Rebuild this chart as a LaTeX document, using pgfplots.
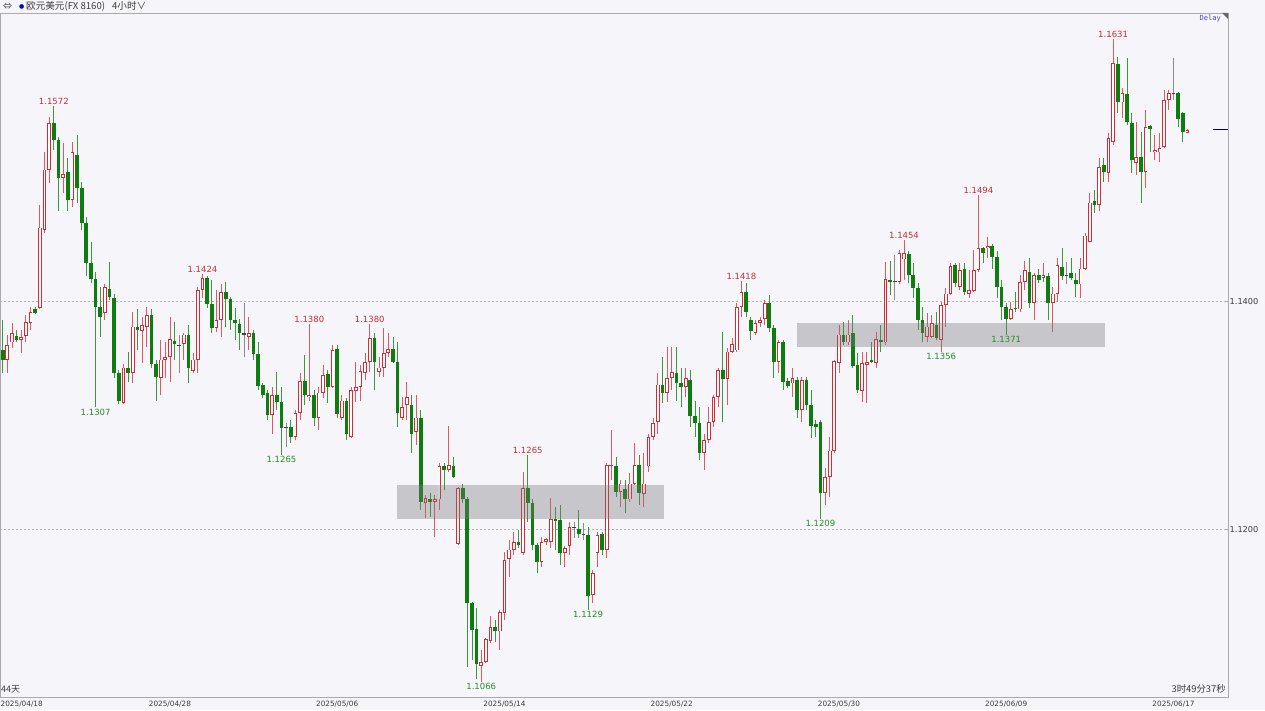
\documentclass[border=0pt]{standalone}
\usepackage{fontspec}
\setmainfont{DejaVu Sans}
\newfontfamily\cjk{Noto Sans CJK SC}
\newfontfamily\monofont{DejaVu Sans Mono}
\usepackage{pgfplots}
\usepackage{pgfplotstable}
\pgfplotsset{compat=1.18}

\definecolor{bg}{RGB}{245,245,250}
\definecolor{upc}{RGB}{212,44,54}
\definecolor{upwick}{RGB}{222,90,98}
\definecolor{dnc}{RGB}{14,124,14}
\definecolor{dnwick}{RGB}{62,150,62}
\definecolor{dojic}{RGB}{110,110,110}
\definecolor{zone}{RGB}{120,120,120}
\definecolor{lblred}{RGB}{196,46,56}
\definecolor{lblgreen}{RGB}{40,140,40}
\definecolor{axisgray}{RGB}{170,170,176}
\definecolor{txt}{RGB}{60,60,60}

% EUR/USD 4h candles: index, open, high, low, close
\pgfplotstableread{
i o h l c
1 1.1349 1.1371 1.1337 1.1362
2 1.1364 1.1381 1.1359 1.1372
4 1.1366 1.1375 1.1355 1.1369
5 1.1370 1.1388 1.1364 1.1382
6 1.1381 1.1395 1.1375 1.1391
8 1.1394 1.1485 1.1393 1.1465
9 1.1463 1.1531 1.1460 1.1516
10 1.1516 1.1562 1.1504 1.1557
13 1.1509 1.1539 1.1495 1.1512
15 1.1489 1.1540 1.1483 1.1531
22 1.1390 1.1415 1.1384 1.1413
26 1.1311 1.1345 1.1310 1.1342
28 1.1337 1.1391 1.1328 1.1378
30 1.1374 1.1386 1.1346 1.1379
31 1.1378 1.1395 1.1360 1.1388
34 1.1333 1.1366 1.1318 1.1349
35 1.1349 1.1364 1.1333 1.1351
36 1.1351 1.1386 1.1329 1.1367
39 1.1363 1.1372 1.1349 1.1371
41 1.1339 1.1355 1.1337 1.1349
42 1.1349 1.1413 1.1337 1.1410
43 1.1410 1.1424 1.1403 1.1421
46 1.1377 1.1410 1.1373 1.1384
47 1.1384 1.1415 1.1369 1.1408
53 1.1369 1.1386 1.1357 1.1372
58 1.1300 1.1325 1.1284 1.1318
63 1.1281 1.1305 1.1278 1.1302
64 1.1302 1.1337 1.1296 1.1330
66 1.1316 1.1380 1.1313 1.1318
68 1.1298 1.1325 1.1287 1.1320
69 1.1320 1.1344 1.1315 1.1335
71 1.1325 1.1362 1.1324 1.1357
73 1.1298 1.1318 1.1296 1.1313
75 1.1281 1.1325 1.1280 1.1322
76 1.1321 1.1347 1.1312 1.1325
77 1.1325 1.1344 1.1313 1.1339
78 1.1337 1.1355 1.1331 1.1347
79 1.1347 1.1380 1.1338 1.1368
81 1.1338 1.1351 1.1334 1.1342
82 1.1342 1.1377 1.1334 1.1355
83 1.1355 1.1372 1.1351 1.1358
86 1.1298 1.1316 1.1296 1.1307
87 1.1309 1.1329 1.1296 1.1316
89 1.1285 1.1318 1.1274 1.1298
91 1.1223 1.1230 1.1210 1.1227
93 1.1224 1.1230 1.1193 1.1226
94 1.1226 1.1258 1.1217 1.1255
96 1.1252 1.1291 1.1250 1.1256
98 1.1187 1.1237 1.1186 1.1236
103 1.1080 1.1094 1.1066 1.1083
104 1.1083 1.1104 1.1082 1.1103
105 1.1102 1.1124 1.1100 1.1114
107 1.1110 1.1129 1.1094 1.1127
108 1.1126 1.1180 1.1120 1.1173
109 1.1174 1.1190 1.1158 1.1182
110 1.1182 1.1197 1.1177 1.1189
112 1.1179 1.1250 1.1177 1.1236
116 1.1171 1.1193 1.1167 1.1189
117 1.1189 1.1192 1.1186 1.1191
118 1.1189 1.1227 1.1183 1.1209
121 1.1179 1.1185 1.1167 1.1183
122 1.1185 1.1206 1.1177 1.1202
127 1.1142 1.1164 1.1135 1.1161
128 1.1179 1.1197 1.1167 1.1195
130 1.1182 1.1258 1.1175 1.1256
131 1.1255 1.1287 1.1243 1.1256
133 1.1233 1.1243 1.1219 1.1240
135 1.1226 1.1249 1.1224 1.1240
136 1.1240 1.1276 1.1239 1.1256
138 1.1231 1.1267 1.1219 1.1240
139 1.1255 1.1284 1.1250 1.1281
140 1.1281 1.1298 1.1278 1.1293
141 1.1294 1.1337 1.1284 1.1327
143 1.1320 1.1360 1.1312 1.1333
144 1.1333 1.1360 1.1322 1.1338
147 1.1325 1.1342 1.1316 1.1333
151 1.1267 1.1284 1.1252 1.1278
152 1.1278 1.1307 1.1276 1.1294
153 1.1294 1.1318 1.1290 1.1316
154 1.1316 1.1342 1.1307 1.1340
156 1.1332 1.1359 1.1309 1.1356
157 1.1356 1.1368 1.1355 1.1363
158 1.1357 1.1399 1.1356 1.1395
159 1.1395 1.1418 1.1386 1.1408
162 1.1372 1.1384 1.1371 1.1381
163 1.1381 1.1386 1.1378 1.1384
164 1.1385 1.1401 1.1379 1.1399
167 1.1347 1.1366 1.1337 1.1364
170 1.1328 1.1342 1.1316 1.1333
172 1.1305 1.1334 1.1294 1.1331
177 1.1232 1.1254 1.1221 1.1246
178 1.1246 1.1281 1.1228 1.1269
179 1.1269 1.1349 1.1267 1.1348
180 1.1346 1.1379 1.1337 1.1371
182 1.1364 1.1384 1.1362 1.1371
185 1.1321 1.1356 1.1312 1.1346
186 1.1344 1.1356 1.1311 1.1347
188 1.1346 1.1373 1.1342 1.1367
190 1.1364 1.1435 1.1362 1.1420
193 1.1417 1.1445 1.1415 1.1443
194 1.1437 1.1454 1.1419 1.1443
199 1.1369 1.1390 1.1364 1.1378
200 1.1369 1.1388 1.1368 1.1381
202 1.1366 1.1400 1.1356 1.1397
203 1.1397 1.1412 1.1378 1.1407
204 1.1407 1.1434 1.1406 1.1431
206 1.1413 1.1434 1.1410 1.1428
208 1.1407 1.1428 1.1403 1.1410
209 1.1409 1.1445 1.1408 1.1428
210 1.1428 1.1494 1.1426 1.1447
212 1.1447 1.1457 1.1438 1.1449
217 1.1385 1.1400 1.1384 1.1393
219 1.1393 1.1423 1.1391 1.1417
220 1.1417 1.1436 1.1410 1.1428
222 1.1399 1.1425 1.1384 1.1423
224 1.1421 1.1434 1.1417 1.1423
226 1.1399 1.1413 1.1373 1.1407
227 1.1407 1.1438 1.1400 1.1432
232 1.1415 1.1438 1.1403 1.1429
233 1.1429 1.1460 1.1428 1.1458
234 1.1452 1.1495 1.1452 1.1487
236 1.1485 1.1526 1.1480 1.1518
238 1.1513 1.1548 1.1505 1.1544
239 1.1540 1.1631 1.1538 1.1610
241 1.1575 1.1588 1.1561 1.1583
244 1.1522 1.1558 1.1511 1.1527
246 1.1514 1.1568 1.1500 1.1553
248 1.1531 1.1546 1.1524 1.1533
249 1.1531 1.1548 1.1523 1.1535
250 1.1536 1.1586 1.1535 1.1577
251 1.1577 1.1586 1.1568 1.1583
255 1.1548 1.1552 1.1548 1.1551
}\upcandles

\pgfplotstableread{
i o h l c
0 1.1357 1.1384 1.1337 1.1349
3 1.1370 1.1375 1.1364 1.1366
7 1.1393 1.1395 1.1389 1.1390
11 1.1557 1.1572 1.1533 1.1542
12 1.1542 1.1545 1.1480 1.1509
14 1.1514 1.1526 1.1480 1.1489
16 1.1529 1.1546 1.1487 1.1500
17 1.1500 1.1505 1.1463 1.1469
18 1.1469 1.1474 1.1422 1.1434
19 1.1434 1.1452 1.1416 1.1420
20 1.1420 1.1426 1.1307 1.1395
21 1.1395 1.1413 1.1369 1.1386
23 1.1411 1.1435 1.1401 1.1404
24 1.1403 1.1407 1.1333 1.1337
25 1.1337 1.1340 1.1310 1.1313
27 1.1342 1.1356 1.1329 1.1337
29 1.1378 1.1393 1.1357 1.1375
32 1.1388 1.1393 1.1342 1.1345
33 1.1345 1.1349 1.1313 1.1334
37 1.1365 1.1382 1.1349 1.1363
40 1.1371 1.1379 1.1328 1.1342
44 1.1421 1.1422 1.1394 1.1398
45 1.1398 1.1419 1.1372 1.1377
48 1.1408 1.1417 1.1378 1.1402
49 1.1402 1.1404 1.1375 1.1384
50 1.1384 1.1394 1.1366 1.1381
51 1.1380 1.1385 1.1357 1.1372
54 1.1372 1.1375 1.1349 1.1354
55 1.1354 1.1364 1.1322 1.1326
56 1.1327 1.1328 1.1315 1.1318
57 1.1320 1.1322 1.1296 1.1300
59 1.1318 1.1338 1.1305 1.1312
60 1.1312 1.1325 1.1265 1.1289
62 1.1290 1.1296 1.1276 1.1281
65 1.1330 1.1353 1.1309 1.1318
67 1.1318 1.1322 1.1291 1.1298
70 1.1336 1.1340 1.1311 1.1325
72 1.1358 1.1362 1.1298 1.1301
74 1.1313 1.1315 1.1278 1.1284
80 1.1368 1.1372 1.1322 1.1347
84 1.1358 1.1369 1.1346 1.1347
85 1.1347 1.1364 1.1290 1.1302
88 1.1309 1.1318 1.1267 1.1284
90 1.1298 1.1305 1.1217 1.1224
92 1.1226 1.1232 1.1211 1.1224
95 1.1255 1.1258 1.1234 1.1252
97 1.1255 1.1263 1.1245 1.1246
99 1.1236 1.1240 1.1223 1.1226
100 1.1226 1.1228 1.1079 1.1135
101 1.1135 1.1136 1.1085 1.1111
102 1.1112 1.1131 1.1068 1.1081
106 1.1114 1.1120 1.1101 1.1110
111 1.1189 1.1199 1.1183 1.1186
113 1.1236 1.1265 1.1206 1.1223
114 1.1223 1.1226 1.1182 1.1186
115 1.1186 1.1188 1.1161 1.1171
119 1.1209 1.1219 1.1182 1.1207
120 1.1208 1.1221 1.1168 1.1179
124 1.1200 1.1217 1.1192 1.1196
126 1.1195 1.1202 1.1129 1.1141
129 1.1196 1.1197 1.1177 1.1182
132 1.1255 1.1263 1.1228 1.1233
134 1.1235 1.1243 1.1214 1.1226
137 1.1256 1.1265 1.1221 1.1232
142 1.1327 1.1351 1.1311 1.1320
145 1.1337 1.1360 1.1313 1.1328
146 1.1328 1.1342 1.1307 1.1325
148 1.1331 1.1340 1.1290 1.1299
149 1.1299 1.1313 1.1281 1.1293
150 1.1293 1.1307 1.1261 1.1267
155 1.1340 1.1373 1.1294 1.1332
160 1.1408 1.1416 1.1386 1.1391
161 1.1384 1.1386 1.1366 1.1374
165 1.1399 1.1406 1.1373 1.1377
166 1.1377 1.1379 1.1333 1.1347
168 1.1364 1.1366 1.1322 1.1329
169 1.1330 1.1333 1.1324 1.1326
171 1.1331 1.1334 1.1298 1.1305
173 1.1331 1.1334 1.1305 1.1309
174 1.1309 1.1322 1.1280 1.1291
175 1.1292 1.1296 1.1281 1.1290
176 1.1294 1.1296 1.1209 1.1232
181 1.1371 1.1382 1.1362 1.1364
183 1.1372 1.1388 1.1342 1.1343
184 1.1344 1.1355 1.1320 1.1322
187 1.1349 1.1364 1.1346 1.1347
189 1.1366 1.1379 1.1356 1.1364
191 1.1419 1.1436 1.1406 1.1417
195 1.1442 1.1444 1.1416 1.1423
196 1.1423 1.1434 1.1403 1.1412
197 1.1412 1.1416 1.1375 1.1384
198 1.1384 1.1395 1.1364 1.1372
201 1.1379 1.1391 1.1366 1.1368
205 1.1432 1.1434 1.1413 1.1416
207 1.1429 1.1434 1.1406 1.1408
211 1.1447 1.1448 1.1434 1.1443
213 1.1449 1.1451 1.1429 1.1439
214 1.1439 1.1444 1.1403 1.1413
215 1.1413 1.1419 1.1384 1.1395
216 1.1395 1.1399 1.1371 1.1385
218 1.1394 1.1408 1.1391 1.1393
221 1.1426 1.1438 1.1394 1.1399
223 1.1423 1.1429 1.1416 1.1419
225 1.1422 1.1425 1.1384 1.1399
228 1.1430 1.1447 1.1419 1.1422
230 1.1425 1.1438 1.1419 1.1421
231 1.1419 1.1425 1.1404 1.1415
235 1.1488 1.1498 1.1478 1.1485
237 1.1520 1.1526 1.1505 1.1514
240 1.1609 1.1615 1.1566 1.1575
242 1.1582 1.1614 1.1555 1.1558
243 1.1557 1.1566 1.1513 1.1524
245 1.1527 1.1549 1.1487 1.1514
247 1.1554 1.1555 1.1531 1.1552
253 1.1583 1.1584 1.1553 1.1560
254 1.1566 1.1567 1.1540 1.1549
}\downcandles

\pgfplotstableread{
i o h l c
38 1.1361 1.1371 1.1337 1.1361
52 1.1371 1.1399 1.1351 1.1371
61 1.1289 1.1293 1.1272 1.1289
123 1.1202 1.1206 1.1192 1.1201
125 1.1196 1.1205 1.1190 1.1195
192 1.1417 1.1441 1.1401 1.1417
229 1.1422 1.1435 1.1415 1.1422
252 1.1583 1.1614 1.1577 1.1582
}\dojicandles

\newcommand\lblfont{\fontsize{8.5}{9}\selectfont}

\begin{document}
\begin{tikzpicture}[x=1pt,y=1pt]
\fill[bg] (0,0) rectangle (1265,710);
\useasboundingbox (0,0) rectangle (1265,710);

\begin{axis}[
  at={(0pt,13pt)}, anchor=south west,
  scale only axis, width=1228pt, height=684pt,
  xmin=-0.581, xmax=263.73,
  ymin=1.10524, ymax=1.16536,
  axis background/.style={fill=bg},
  axis line style={draw=axisgray, line width=0.8pt},
  ytick={1.12,1.14}, yticklabels={1.1200,1.1400},
  ytick pos=right, yticklabel pos=right,
  ytick style={draw=axisgray},
  major tick length=3pt,
  yticklabel style={font=\fontsize{8.2}{9}\selectfont, text=txt, inner sep=1.5pt},
  ymajorgrids,
  grid style={draw=black!28, dash pattern=on 2pt off 2pt, line width=0.5pt},
  xtick={36,72,108,144,180,216,252},
  xticklabels={2025/04/28,2025/05/06,2025/05/14,2025/05/22,2025/05/30,2025/06/09,2025/06/17},
  xtick style={draw=none},
  xticklabel style={font=\fontsize{7.3}{8}\selectfont, text=txt, inner sep=2pt, yshift=-1.5pt},
  clip=true,
]

% wicks
\addplot[draw=none, mark=none, forget plot,
  error bars/.cd, y dir=plus, y explicit, error mark=none,
  error bar style={draw=upwick, line width=0.9pt}]
  table[x=i, y=l, y error plus expr={\thisrow{h}-\thisrow{l}}] {\upcandles};
\addplot[draw=none, mark=none, forget plot,
  error bars/.cd, y dir=plus, y explicit, error mark=none,
  error bar style={draw=dnwick, line width=0.9pt}]
  table[x=i, y=l, y error plus expr={\thisrow{h}-\thisrow{l}}] {\downcandles};
\addplot[draw=none, mark=none, forget plot,
  error bars/.cd, y dir=plus, y explicit, error mark=none,
  error bar style={draw=dojic!80, line width=0.9pt}]
  table[x=i, y=l, y error plus expr={\thisrow{h}-\thisrow{l}}] {\dojicandles};

% bodies: falling candles filled, rising candles hollow
\addplot[draw=none, mark=none, forget plot,
  error bars/.cd, y dir=plus, y explicit, error mark=none,
  error bar style={draw=dnc, line width=3.7pt}]
  table[x=i, y=c, y error plus expr={max(\thisrow{o}-\thisrow{c},0.0001)}] {\downcandles};
\addplot[draw=none, mark=none, forget plot,
  error bars/.cd, y dir=plus, y explicit, error mark=none,
  error bar style={draw=upc, line width=3.7pt}]
  table[x=i, y=o, y error plus expr={max(\thisrow{c}-\thisrow{o},0.0001)}] {\upcandles};
\addplot[draw=none, mark=none, forget plot,
  error bars/.cd, y dir=plus, y explicit, error mark=none,
  error bar style={draw=white, line width=1.9pt}]
  table[x=i, y expr={\thisrow{o}+0.00008}, y error plus expr={max(\thisrow{c}-\thisrow{o}-0.00016,0)}] {\upcandles};
\addplot[draw=none, mark=none, forget plot,
  error bars/.cd, y dir=plus, y explicit, error mark=none,
  error bar style={draw=black!75, line width=3.7pt}]
  table[x=i, y=c, y error plus expr={0.0001}] {\dojicandles};

% support / resistance zones, laid over the candles
\addplot[fill=zone, fill opacity=0.36, draw=none, forget plot]
  coordinates {(84.87,1.12088) (142.3,1.12088) (142.3,1.12387) (84.87,1.12387)} --cycle;
\addplot[fill=zone, fill opacity=0.36, draw=none, forget plot]
  coordinates {(170.97,1.13597) (237.3,1.13597) (237.3,1.13808) (170.97,1.13808)} --cycle;

% last price marker
\addplot[draw=black!80!blue, line width=0.9pt, forget plot]
  coordinates {(260.5,1.1551) (263.73,1.1551)};

% swing high / low labels
\begin{scope}[every node/.style={font=\lblfont, inner sep=1.2pt}]
\node[text=lblred, anchor=south] at (axis cs:11,1.1572) {1.1572};
\node[text=lblgreen, anchor=north] at (axis cs:20,1.1307) {1.1307};
\node[text=lblred, anchor=south] at (axis cs:43,1.1424) {1.1424};
\node[text=lblgreen, anchor=north] at (axis cs:60,1.1265) {1.1265};
\node[text=lblred, anchor=south] at (axis cs:66,1.1380) {1.1380};
\node[text=lblred, anchor=south] at (axis cs:79,1.1380) {1.1380};
\node[text=lblgreen, anchor=north] at (axis cs:103,1.1066) {1.1066};
\node[text=lblred, anchor=south] at (axis cs:113,1.1265) {1.1265};
\node[text=lblgreen, anchor=north] at (axis cs:126,1.1129) {1.1129};
\node[text=lblred, anchor=south] at (axis cs:159,1.1418) {1.1418};
\node[text=lblgreen, anchor=north] at (axis cs:176,1.1209) {1.1209};
\node[text=lblred, anchor=south] at (axis cs:194,1.1454) {1.1454};
\node[text=lblgreen, anchor=north] at (axis cs:202,1.1356) {1.1356};
\node[text=lblred, anchor=south] at (axis cs:210,1.1494) {1.1494};
\node[text=lblgreen, anchor=north] at (axis cs:216,1.1371) {1.1371};
\node[text=lblred, anchor=south] at (axis cs:239,1.1631) {1.1631};
\end{scope}
\end{axis}

% header
\node[anchor=west, inner sep=0pt, text=txt, font=\fontsize{9}{10}\selectfont] at (3,703.5) {\cjk ⇔};
\node[anchor=west, inner sep=0pt, text=blue!70!black, font=\fontsize{6}{7}\selectfont] at (19,703.5) {●};
\node[anchor=west, inner sep=0pt, text=txt, font=\fontsize{9.6}{10}\selectfont] at (26,703.5) {\cjk 欧元美元(FX 8160)\hspace{7pt}4小时∨};
% delay tag and corner mark
\node[anchor=east, inner sep=0pt, text=blue!45!gray, font=\fontsize{7}{7}\selectfont\monofont] at (1221,691) {Delay};
\fill[black!60] (1222,697) -- (1228,697) -- (1228,691) -- cycle;
% footer texts
\node[anchor=west, inner sep=0pt, text=txt, font=\fontsize{9}{10}\selectfont] at (1,21) {\cjk 44天};
\node[anchor=east, inner sep=0pt, text=txt, font=\fontsize{9.4}{10}\selectfont] at (1226,21) {\cjk 3时49分37秒};
\node[anchor=west, inner sep=0pt, text=txt, font=\fontsize{7.3}{8}\selectfont] at (0.5,5.5) {2025/04/18};
\end{tikzpicture}
\end{document}
